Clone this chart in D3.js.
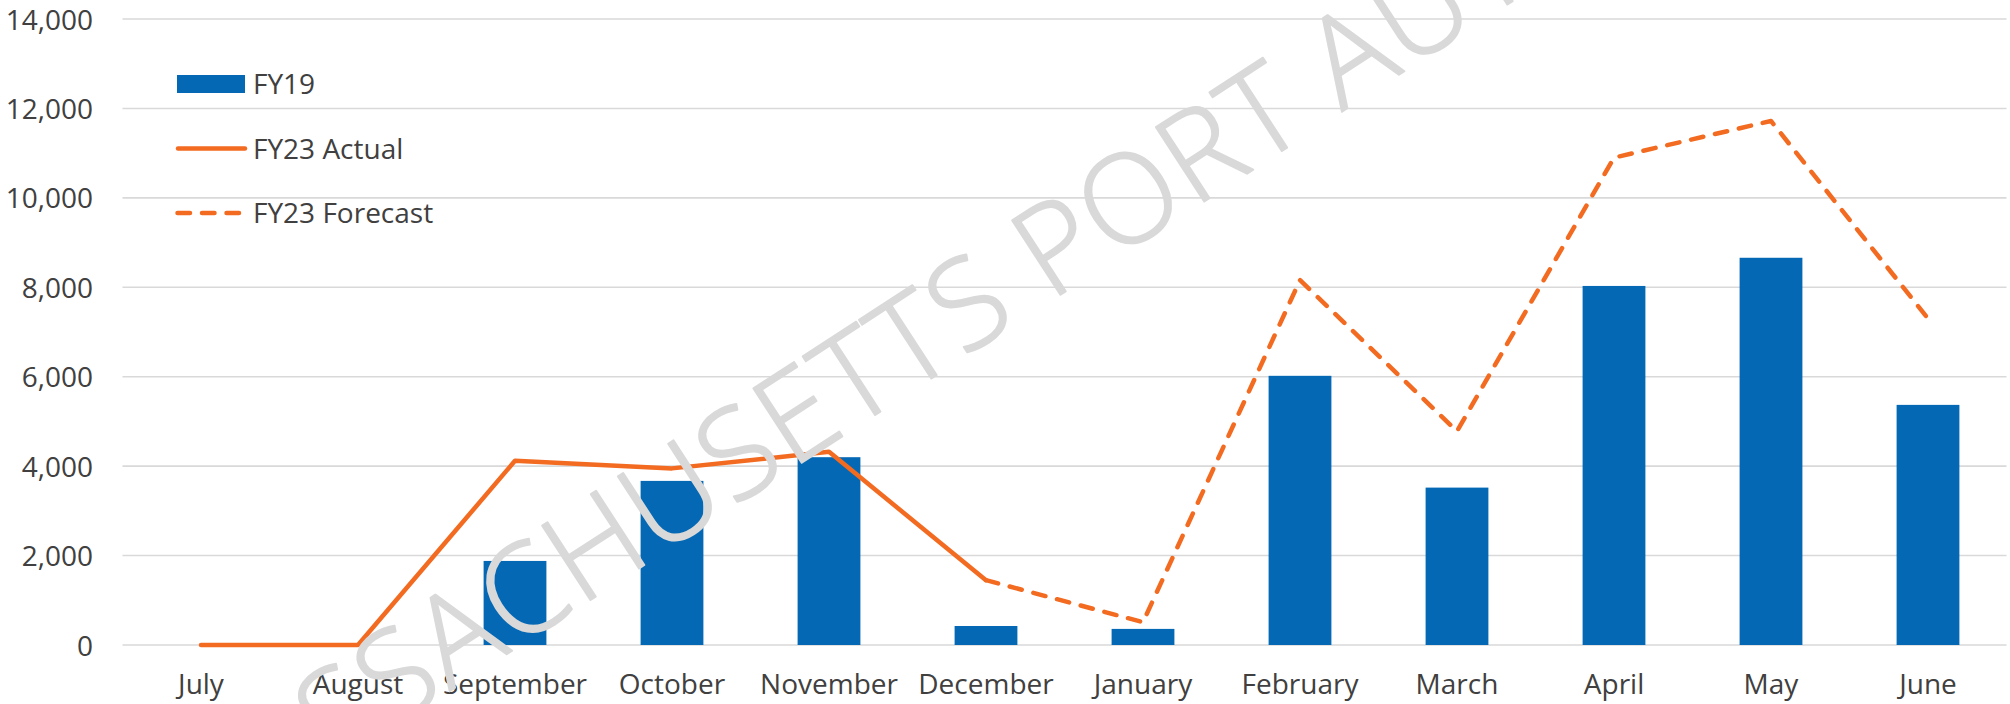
<!DOCTYPE html>
<html>
<head>
<meta charset="utf-8">
<script src="https://cdn.jsdelivr.net/npm/d3@7"></script>
<style>
  html, body { margin: 0; padding: 0; background: #fff; }
  svg { display: block; }
  text { font-family: "Open Sans", "Noto Sans", sans-serif; fill: #404040; }
</style>
</head>
<body>
<div id="chart"></div>
<script>
// monthly values
const months = ["July", "August", "September", "October", "November", "December",
    "January", "February", "March", "April", "May", "June"];
const fy19 = [0, 0, 1880, 3670, 4200, 425, 360, 6020, 3520, 8030, 8660, 5370];
const fy23Actual = [0, 0, 4120, 3950, 4320, 1450, null, null, null, null, null, null];
const fy23Forecast = [null, null, null, null, null, 1450, 510, 8160, 4780, 10900, 11720, 7300];
const yTicks = [0, 2000, 4000, 6000, 8000, 10000, 12000, 14000];
const legendLabels = ["FY19", "FY23 Actual", "FY23 Forecast"];
const watermark = "MASSACHUSETTS PORT AUTHORITY";

const W = 2010, H = 704;
const blue = "#0468b4", orange = "#f26b21", grid = "#d9d9d9";

const svg = d3.select("#chart").append("svg")
    .attr("width", W)
    .attr("height", H);

const x = d3.scaleBand()
    .domain(months)
    .range([122.5, 2006.5])
    .paddingInner(0.6)
    .paddingOuter(0.3);

const y = d3.scaleLinear()
    .domain([0, 14000])
    .range([645, 19]);

const cx = m => x(m) + x.bandwidth() / 2;

// gridlines
svg.append("g")
    .selectAll("line")
    .data(yTicks)
    .join("line")
    .attr("x1", 122.5)
    .attr("x2", 2006.5)
    .attr("y1", d => y(d))
    .attr("y2", d => y(d))
    .attr("stroke", grid)
    .attr("stroke-width", 1.6);

// y axis labels
const yAxis = svg.append("g")
    .attr("transform", "translate(93,0)")
    .call(d3.axisLeft(y).tickValues(yTicks).tickSize(0).tickPadding(0).tickFormat(d3.format(",")));
yAxis.select(".domain").remove();
yAxis.selectAll("text")
    .attr("font-size", 28)
    .attr("font-family", null)
    .attr("fill", null)
    .attr("dy", "0.36em");

// x axis labels
const xAxis = svg.append("g")
    .attr("transform", "translate(0,645)")
    .call(d3.axisBottom(x).tickSize(0).tickPadding(0));
xAxis.select(".domain").remove();
xAxis.selectAll("text")
    .attr("font-size", 28)
    .attr("font-family", null)
    .attr("fill", null)
    .attr("y", 49)
    .attr("dy", 0);

// FY19 bars
svg.append("g")
    .selectAll("rect")
    .data(months.map((m, i) => ({ m, v: fy19[i] })))
    .join("rect")
    .attr("x", d => x(d.m))
    .attr("width", x.bandwidth())
    .attr("y", d => y(d.v))
    .attr("height", d => y(0) - y(d.v))
    .attr("fill", blue);

// FY23 lines
const line = d3.line()
    .defined(d => d.v !== null)
    .x(d => cx(d.m))
    .y(d => y(d.v));

svg.append("path")
    .datum(months.map((m, i) => ({ m, v: fy23Actual[i] })))
    .attr("d", line)
    .attr("fill", "none")
    .attr("stroke", orange)
    .attr("stroke-width", 4.5)
    .attr("stroke-linejoin", "round")
    .attr("stroke-linecap", "round");

svg.append("path")
    .datum(months.map((m, i) => ({ m, v: fy23Forecast[i] })))
    .attr("d", line)
    .attr("fill", "none")
    .attr("stroke", orange)
    .attr("stroke-width", 4.5)
    .attr("stroke-dasharray", "12.5 12")
    .attr("stroke-linejoin", "round")
    .attr("stroke-linecap", "round");

// legend
const legend = svg.append("g");
const rowY = [84, 148.5, 213];
legend.append("rect")
    .attr("x", 177).attr("y", rowY[0] - 9)
    .attr("width", 68).attr("height", 18)
    .attr("fill", blue);
legend.append("line")
    .attr("x1", 178).attr("x2", 245)
    .attr("y1", rowY[1]).attr("y2", rowY[1])
    .attr("stroke", orange).attr("stroke-width", 4.5)
    .attr("stroke-linecap", "round");
legend.append("line")
    .attr("x1", 177.5).attr("x2", 245)
    .attr("y1", rowY[2]).attr("y2", rowY[2])
    .attr("stroke", orange).attr("stroke-width", 4.5)
    .attr("stroke-dasharray", "12.5 12")
    .attr("stroke-linecap", "round");
legend.selectAll("text")
    .data(legendLabels)
    .join("text")
    .attr("x", 253)
    .attr("y", (d, i) => rowY[i])
    .attr("dy", "0.36em")
    .attr("font-size", 28)
    .text(d => d);

// watermark sits on top of everything
const wm = svg.append("g")
    .attr("transform", "translate(1050,301.5) rotate(-33)");
const wmText = wm.append("text")
    .attr("font-family", "Lato, sans-serif")
    .attr("font-weight", 300)
    .attr("font-size", 124)
    .attr("letter-spacing", 2)
    .style("fill", "#d9d9d9")
    .attr("stroke", "#d9d9d9")
    .attr("stroke-width", 2)
    .attr("stroke-linejoin", "round")
    .text(watermark);
const shift = wmText.node().getSubStringLength(0, 14);
wmText.attr("x", -shift);
</script>
</body>
</html>
